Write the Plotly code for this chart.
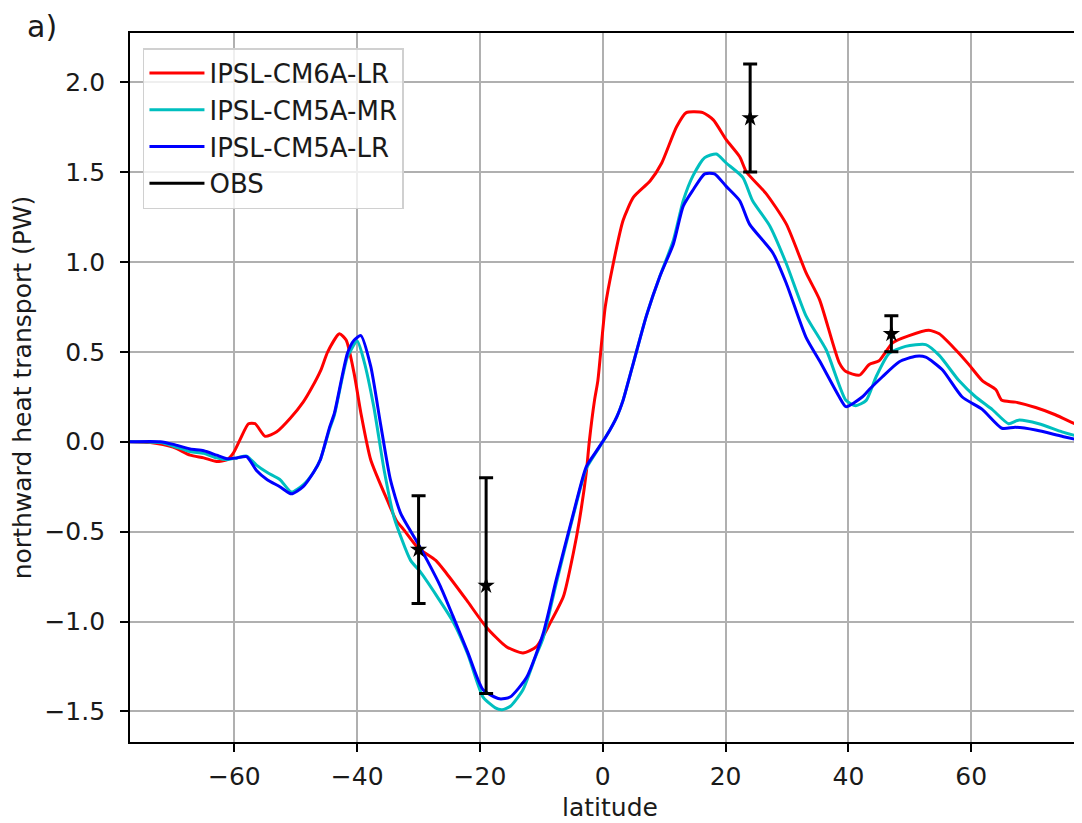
import plotly.graph_objects as go

# ---------------- data ----------------
lat_cm6a_lr = [-77, -73.7, -70, -67.2, -65, -62.9, -61.2, -60.2, -59.1, -57.7, -56.6, -55, -53.1, -50.9,
               -48.8, -47.4, -45.9, -44.8, -42.9, -41.8, -40.5, -39.4, -37.8, -35.1, -33.6, -32.4, -30.1,
               -27.2, -25.5, -22.2, -19, -15.7, -13, -10.8, -8.6, -6.4, -4.8, -3.8, -2.7, -2.2, -1.35, -0.8,
               0.4, 1.7, 3.3, 5.0, 7.7, 9.6, 12, 13.6, 16.3, 18, 20.1, 22.3, 23.4, 26.6, 29.9, 33.1, 35.3,
               38.5, 39.6, 41.8, 43.4, 45, 47.2, 49.9, 53.1, 54.8, 57.5, 59.6, 61.8, 64, 65, 67.2, 70.5,
               73.7, 77.5, 80]
nht_cm6a_lr = [0.0, -0.005, -0.03, -0.075, -0.09, -0.11, -0.10, -0.065, 0.01, 0.10, 0.10, 0.03, 0.055, 0.13,
               0.22, 0.30, 0.40, 0.50, 0.60, 0.565, 0.38, 0.16, -0.10, -0.325, -0.44, -0.49, -0.59,
               -0.66, -0.73, -0.88, -1.03, -1.14, -1.175, -1.14, -1.01, -0.86, -0.62, -0.435, -0.175, 0.0, 0.23, 0.34,
               0.75, 0.99, 1.23, 1.36, 1.45, 1.55, 1.75, 1.83, 1.83, 1.79, 1.68, 1.585, 1.50, 1.38, 1.21, 0.94, 0.79,
               0.44, 0.39, 0.37, 0.43, 0.45, 0.55, 0.59, 0.62, 0.60, 0.51, 0.43, 0.34, 0.29, 0.23, 0.22, 0.19,
               0.15, 0.09, 0.06]

lat_cm5a_mr = [-77, -72, -69.9, -67.2, -65, -62.9, -61.2, -59.6, -58, -56.4, -54.7, -52.6, -50.7, -48.8,
               -47.1, -46, -44.5, -43.7, -41.6, -40, -38.9, -37.3, -35.6, -34, -31.3, -29.8, -27, -24.4,
               -22, -19.5, -17.5, -16.4, -15, -13, -11, -9.7, -7.6, -4.8, -2.7, -1.1, 0.55, 2.3, 3.3, 5,
               7.1, 9.3, 11.5, 13.1, 14.7, 16.6, 18.5, 20.1, 22.8, 24.4, 27.2, 29.9, 33.1, 36.4, 39.6, 41.2,
               42.9, 44.5, 46.6, 49.3, 52.6, 54.8, 58, 60.7, 63.4, 66.1, 67.7, 71, 74.8, 77.5, 80]
nht_cm5a_mr = [0.0, -0.005, -0.025, -0.055, -0.065, -0.09, -0.10, -0.09, -0.08, -0.13, -0.17, -0.21, -0.28, -0.24,
               -0.17, -0.10, 0.07, 0.15, 0.47, 0.56, 0.45, 0.195, -0.16, -0.42, -0.66, -0.72, -0.86, -1.0,
               -1.18, -1.42, -1.48, -1.49, -1.47, -1.38, -1.2, -1.09, -0.79, -0.41, -0.15, -0.06, 0.03, 0.14, 0.23, 0.44,
               0.70, 0.92, 1.12, 1.34, 1.48, 1.58, 1.60, 1.55, 1.47, 1.34, 1.20, 0.99, 0.70, 0.51, 0.23, 0.20,
               0.23, 0.36, 0.49, 0.53, 0.54, 0.48, 0.34, 0.25, 0.18, 0.10, 0.12, 0.10, 0.055, 0.03, 0.015]

lat_cm5a_lr = [-77, -72.1, -69.9, -67.2, -65, -62.9, -61.2, -59.6, -58, -56.4, -54.7, -52.6, -50.7, -48.8,
               -47.1, -46, -44.5, -43.7, -41.6, -40.5, -39.4, -37.8, -36.2, -34.6, -32.9, -30.2, -28.6, -26.5,
               -24.4, -22, -19.5, -16.8, -15.1, -12.4, -9.7, -7.6, -4.8, -2.7, -1.1, 0.55, 2.3, 3.3, 4.2, 5,
               7.1, 9.3, 11.5, 13.1, 14.7, 16.6, 18.2, 20.1, 22.3, 23.9, 27.7, 29.9, 33.1, 35.3, 38.5, 39.6,
               42.3, 43.4, 45.5, 48.3, 51, 52.6, 55.3, 58.5, 61.8, 65, 67.2, 70.5, 74.8, 77.5, 80]
nht_cm5a_lr = [0.0, 0.0, -0.015, -0.04, -0.05, -0.075, -0.095, -0.09, -0.083, -0.16, -0.21, -0.25, -0.29, -0.25,
               -0.17, -0.10, 0.08, 0.16, 0.49, 0.565, 0.59, 0.42, 0.10, -0.21, -0.40, -0.56, -0.66, -0.80,
               -0.97, -1.17, -1.38, -1.43, -1.42, -1.31, -1.065, -0.77, -0.40, -0.14, -0.055, 0.03, 0.14, 0.23, 0.34, 0.44,
               0.70, 0.92, 1.10, 1.31, 1.40, 1.49, 1.49, 1.42, 1.34, 1.21, 1.05, 0.88, 0.58, 0.45, 0.25, 0.195,
               0.25, 0.29, 0.36, 0.445, 0.475, 0.47, 0.40, 0.25, 0.18, 0.075, 0.08, 0.065, 0.03, 0.01, 0.0]

obs_lat = [-30, -19, 24, 47]
obs_nht = [-0.6, -0.8, 1.8, 0.6]
obs_err = [0.3, 0.6, 0.3, 0.1]

series_names = ["IPSL-CM6A-LR", "IPSL-CM5A-MR", "IPSL-CM5A-LR", "OBS"]

x_ticks = [-60, -40, -20, 0, 20, 40, 60]
y_ticks = [-1.5, -1.0, -0.5, 0.0, 0.5, 1.0, 1.5, 2.0]

# ---------------- styles ----------------
colors = ["#ff0000", "#00bfbf", "#0000ff", "#000000"]
FONT = "DejaVu Sans"
FS = 25
FS_LEG = 26
TXT = "#1a1a1a"


def fmt(v, dec):
    s = f"{abs(v):.{dec}f}"
    return ("\u2212" + s) if v < 0 else s


fig = go.Figure()
model_data = [(lat_cm6a_lr, nht_cm6a_lr), (lat_cm5a_mr, nht_cm5a_mr), (lat_cm5a_lr, nht_cm5a_lr)]
for i, (xs, ys) in enumerate(model_data):
    fig.add_trace(go.Scatter(x=xs, y=ys, mode="lines", name=series_names[i],
                             legendgroup=series_names[i],
                             line=dict(color=colors[i], width=3), line_shape="spline",
                             line_smoothing=0.6))

fig.add_trace(go.Scatter(x=obs_lat, y=obs_nht, mode="markers", name=series_names[3],
                         showlegend=False, legendgroup=series_names[3],
                         marker=dict(symbol="star", size=13, color=colors[3]),
                         error_y=dict(type="data", array=obs_err, visible=True,
                                      color=colors[3], thickness=3, width=7)))
fig.add_trace(go.Scatter(x=[None], y=[None], mode="lines", name=series_names[3],
                         legendgroup=series_names[3],
                         line=dict(color=colors[3], width=3)))

axis_common = dict(showgrid=True, gridcolor="#b0b0b0", gridwidth=1.8, zeroline=False,
                   showline=True, linecolor="black", linewidth=1.8,
                   ticks="outside", ticklen=8, tickwidth=1.8, tickcolor="black",
                   tickfont=dict(family=FONT, size=FS, color=TXT))

fig.update_xaxes(range=[-77, 79.35], tickvals=x_ticks, ticktext=[fmt(v, 0) for v in x_ticks],
                 mirror=True, ticklabelstandoff=3,
                 title=dict(text="latitude", font=dict(family=FONT, size=FS, color=TXT), standoff=9),
                 **axis_common)
fig.update_yaxes(range=[-1.67, 2.273], tickvals=y_ticks, ticktext=[fmt(v, 1) for v in y_ticks],
                 ticklabelstandoff=10,
                 title=dict(text="northward heat transport (PW)", font=dict(family=FONT, size=FS, color=TXT),
                            standoff=13),
                 **axis_common)

fig.update_layout(
    width=1082, height=823,
    margin=dict(l=122, r=0, t=25, b=89, autoexpand=False),
    paper_bgcolor="white", plot_bgcolor="white",
    font=dict(family=FONT, size=FS, color=TXT),
    showlegend=True,
    legend=dict(x=0.0135, y=0.9788, xanchor="left", yanchor="top",
                bgcolor="rgba(255,255,255,0.8)", bordercolor="#d0d0d0", borderwidth=1.5,
                font=dict(family=FONT, size=FS_LEG, color=TXT),
                tracegroupgap=13, itemwidth=55, traceorder="normal"),
    annotations=[dict(text="a)", xref="paper", yref="paper", x=-0.109, y=1.037,
                      xanchor="left", yanchor="top", showarrow=False,
                      font=dict(family=FONT, size=30, color=TXT))],
)

fig.write_html("out.html")
